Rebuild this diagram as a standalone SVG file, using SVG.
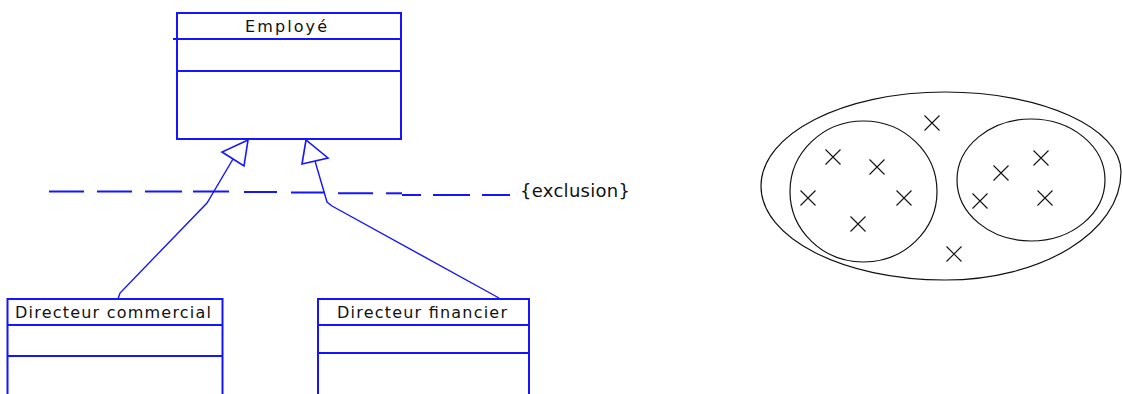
<svg xmlns="http://www.w3.org/2000/svg" width="1122" height="394" viewBox="0 0 1122 394">
<style>
.box{fill:none;stroke:#1515ff;stroke-width:2}
.conn{fill:none;stroke:#1515ff;stroke-width:1.4}
.dash{stroke:#1515ff;stroke-width:2}
.tri{fill:#fff;stroke:#1515ff;stroke-width:1.6}
.lbl{font-family:"DejaVu Sans","Liberation Sans",sans-serif;font-size:16px;fill:#111}
.big{font-size:18px}
.set{fill:none;stroke:#111;stroke-width:1.2}
.x{stroke:#111;stroke-width:1.1}
</style>
<rect width="1122" height="394" fill="#fff"/>
<g id="employe">
<rect class="box" x="177" y="13" width="224" height="126"/>
<line class="box" x1="173" y1="39" x2="401" y2="39"/>
<line class="box" x1="177" y1="71" x2="401" y2="71"/>
<text class="lbl" x="245" y="32" textLength="82" lengthAdjust="spacing">Employé</text>
</g>
<g id="directeur-commercial">
<rect class="box" x="7.5" y="299" width="215" height="110"/>
<line class="box" x1="7.5" y1="325" x2="222.5" y2="325"/>
<line class="box" x1="7.5" y1="356" x2="222.5" y2="356"/>
<text class="lbl" x="15" y="318" textLength="196" lengthAdjust="spacing">Directeur commercial</text>
</g>
<g id="directeur-financier">
<rect class="box" x="318" y="299" width="211" height="110"/>
<line class="box" x1="318" y1="325" x2="529" y2="325"/>
<line class="box" x1="318" y1="353" x2="529" y2="353"/>
<text class="lbl" x="337" y="318" textLength="170" lengthAdjust="spacing">Directeur financier</text>
</g>
<g id="connectors">
<polyline class="conn" points="233,159 207,203 120,293 118,299"/>
<polyline class="conn" points="315,161 327,202 332,206 499,298"/>
<polygon class="tri" points="248,140 222,152 244,166"/>
<polygon class="tri" points="306,140 302,164 328,158"/>
</g>
<g id="exclusion">
<line class="dash" x1="49" y1="191.5" x2="84" y2="191.5"/>
<line class="dash" x1="97" y1="191.5" x2="132" y2="191.5"/>
<line class="dash" x1="145" y1="191.5" x2="182" y2="191.5"/>
<line class="dash" x1="193" y1="191.5" x2="229" y2="191.5"/>
<line class="dash" x1="244" y1="192" x2="277" y2="192"/>
<line class="dash" x1="291" y1="192.5" x2="325" y2="192.5"/>
<line class="dash" x1="338" y1="193.3" x2="373" y2="193.3"/>
<line class="dash" x1="386" y1="193.3" x2="402" y2="193.3"/>
<line class="dash" x1="402" y1="195" x2="421" y2="195"/>
<line class="dash" x1="433" y1="195" x2="470" y2="195"/>
<line class="dash" x1="482" y1="195" x2="510" y2="195"/>
<text class="lbl big" x="520" y="197" textLength="110" lengthAdjust="spacing">{exclusion}</text>
</g>
<g id="sets">
<path class="set" d="M761,186 C761,134 843,92 945,92 C1042,92 1121,128 1121,172 C1121,232 1042,280 945,280 C843,280 761,238 761,186 Z"/>
<ellipse class="set" cx="863.5" cy="191.5" rx="73.5" ry="70.5"/>
<ellipse class="set" cx="1031" cy="180" rx="74" ry="61"/>
<g class="x">
<path class="x" d="M924.5,115.5l15,15m0,-15l-15,15"/>
<path class="x" d="M825.5,149.5l15,15m0,-15l-15,15"/>
<path class="x" d="M869.5,159.5l15,15m0,-15l-15,15"/>
<path class="x" d="M800.5,190.5l15,15m0,-15l-15,15"/>
<path class="x" d="M896.5,190.5l15,15m0,-15l-15,15"/>
<path class="x" d="M850.5,216.5l15,15m0,-15l-15,15"/>
<path class="x" d="M946.5,246.5l15,15m0,-15l-15,15"/>
<path class="x" d="M993.5,165.5l15,15m0,-15l-15,15"/>
<path class="x" d="M1033.5,150.5l15,15m0,-15l-15,15"/>
<path class="x" d="M972.5,193.5l15,15m0,-15l-15,15"/>
<path class="x" d="M1037.5,190.5l15,15m0,-15l-15,15"/>
</g>
</g>
</svg>
